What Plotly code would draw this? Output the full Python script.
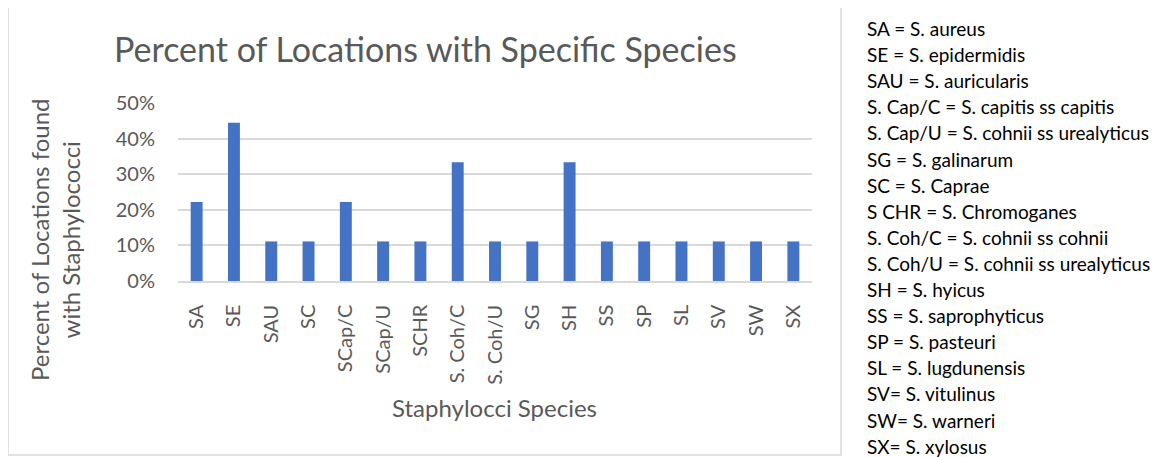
import plotly.graph_objects as go

categories = ["SA", "SE", "SAU", "SC", "SCap/C", "SCap/U", "SCHR", "S. Coh/C",
              "S. Coh/U", "SG", "SH", "SS", "SP", "SL", "SV", "SW", "SX"]
percent = [2/9, 4/9, 1/9, 1/9, 2/9, 1/9, 1/9, 3/9, 1/9, 1/9, 3/9,
           1/9, 1/9, 1/9, 1/9, 1/9, 1/9]
y_ticks = [0, 0.1, 0.2, 0.3, 0.4, 0.5]
y_tick_labels = ["0%", "10%", "20%", "30%", "40%", "50%"]
key_lines = [
    "SA = S. aureus",
    "SE = S. epidermidis",
    "SAU = S. auricularis",
    "S. Cap/C = S. capitis ss capitis",
    "S. Cap/U = S. cohnii ss urealyticus",
    "SG = S. galinarum",
    "SC = S. Caprae",
    "S CHR = S. Chromoganes",
    "S. Coh/C = S. cohnii ss cohnii",
    "S. Coh/U = S. cohnii ss urealyticus",
    "SH = S. hyicus",
    "SS = S. saprophyticus",
    "SP = S. pasteuri",
    "SL = S. lugdunensis",
    "SV= S. vitulinus",
    "SW= S. warneri",
    "SX= S. xylosus",
]

# page body has an 8px margin: work in screenshot coordinates and shift
OFF = 8
SW_, SH_ = 1174, 457
W, H = SW_ - OFF, SH_ - OFF
PL, PR, PT, PB = 178, 812, 103, 281   # plot area in screenshot pixels
L, T = PL - OFF, PT - OFF
R, B = W - (PR - OFF), H - (PB - OFF)
pw, ph = PR - PL, PB - PT

def px(x):
    return (x - PL) / pw

def py(y):
    return (PB - y) / ph

FONT = "Lato"
GREY = "#595959"

fig = go.Figure(go.Bar(x=categories, y=percent, marker_color="#4472C4",
                       marker_line_width=0))

annotations = [
    dict(text="Percent of Locations with Specific Species", x=px(425), y=py(49),
         xref="paper", yref="paper", showarrow=False, xanchor="center", yanchor="middle",
         font=dict(family=FONT, size=34, color=GREY)),
    dict(text="Percent of Locations found<br>with Staphylococci", x=px(55), y=py(240),
         xref="paper", yref="paper", showarrow=False, textangle=-90,
         xanchor="center", yanchor="middle",
         font=dict(family=FONT, size=24, color=GREY)),
    dict(text="Staphylocci Species", x=px(494), y=py(407),
         xref="paper", yref="paper", showarrow=False, xanchor="center", yanchor="middle",
         font=dict(family=FONT, size=24, color=GREY)),
]
for i, line in enumerate(key_lines):
    annotations.append(dict(text=line, x=px(865), y=py(28.5 + i * 26.1),
                            xref="paper", yref="paper", showarrow=False,
                            xanchor="left", yanchor="middle",
                            font=dict(family=FONT, size=19, color="#000000")))

fig.update_layout(
    width=W, height=H,
    margin=dict(l=L, r=R, t=T, b=B, autoexpand=False),
    paper_bgcolor="white", plot_bgcolor="white",
    bargap=0.68, showlegend=False,
    annotations=annotations,
    shapes=[dict(type="rect", xref="paper", yref="paper",
                 x0=px(8), x1=px(841), y0=py(455), y1=py(4),
                 line=dict(color="#d9d9d9", width=1.5), fillcolor="rgba(0,0,0,0)",
                 layer="below")],
)
fig.update_xaxes(tickangle=-90, tickfont=dict(family=FONT, size=20, color=GREY),
                 showgrid=False, showline=True, linecolor="#d9d9d9", linewidth=1.5,
                 ticks="", ticklabelstandoff=14)
fig.update_yaxes(range=[0, 0.5], tickvals=y_ticks, ticktext=y_tick_labels,
                 tickfont=dict(family=FONT, size=20, color=GREY),
                 showgrid=True, gridcolor="#d9d9d9", gridwidth=1.5,
                 zeroline=False, showline=False, ticks="", ticklabelstandoff=22)

fig.write_html("out.html")
